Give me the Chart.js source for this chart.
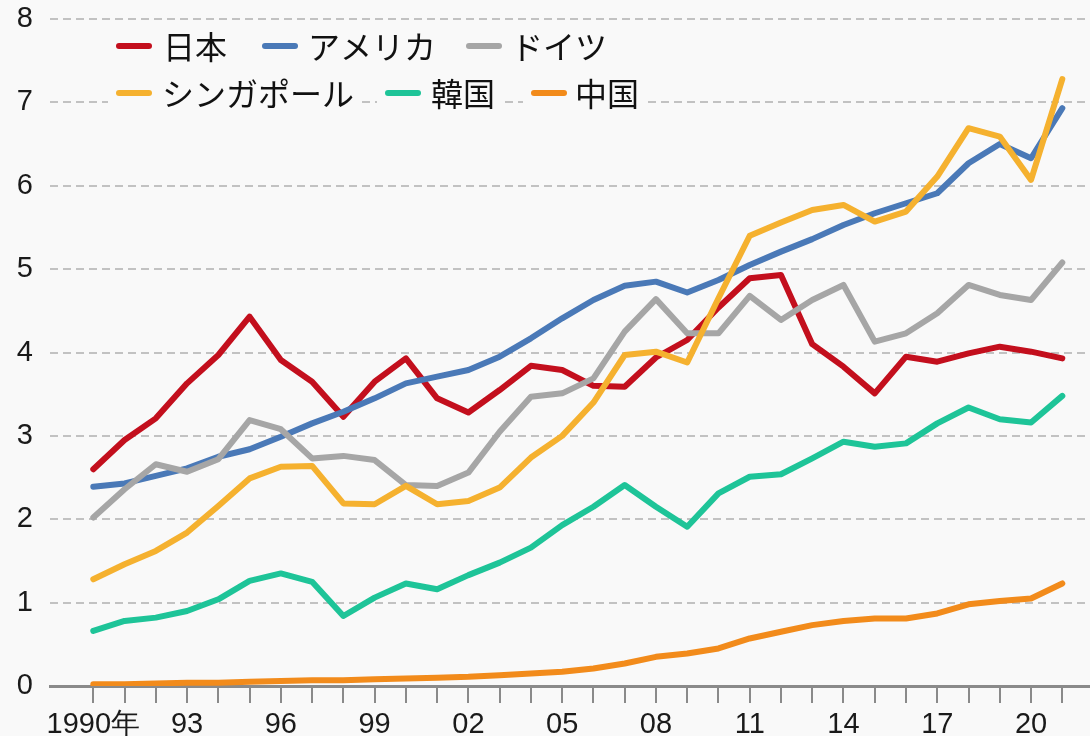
<!DOCTYPE html>
<html>
<head>
<meta charset="utf-8">
<script src="https://cdn.jsdelivr.net/npm/chart.js@4.4.1/dist/chart.umd.min.js"></script>
<style>
  html, body { margin: 0; padding: 0; background: #f9f9f9; }
  #wrap { width: 1090px; height: 736px; position: relative; }
</style>
</head>
<body>
<div id="wrap"><canvas id="c" width="1090" height="736"></canvas></div>
<script>
const years = [1990,1991,1992,1993,1994,1995,1996,1997,1998,1999,2000,2001,2002,2003,2004,2005,2006,2007,2008,2009,2010,2011,2012,2013,2014,2015,2016,2017,2018,2019,2020,2021];
const seriesNames = ['日本','アメリカ','ドイツ','シンガポール','韓国','中国'];
const japan = [2.60,2.95,3.21,3.63,3.97,4.43,3.91,3.65,3.23,3.65,3.93,3.45,3.28,3.55,3.84,3.79,3.60,3.59,3.94,4.15,4.54,4.89,4.93,4.10,3.83,3.51,3.95,3.89,3.99,4.07,4.01,3.93];
const usa = [2.39,2.43,2.52,2.61,2.75,2.84,2.99,3.15,3.29,3.45,3.63,3.71,3.79,3.95,4.17,4.41,4.63,4.80,4.85,4.72,4.87,5.05,5.21,5.36,5.53,5.67,5.79,5.91,6.27,6.50,6.33,6.93];
const germany = [2.02,2.36,2.66,2.57,2.72,3.19,3.08,2.73,2.76,2.71,2.41,2.40,2.56,3.05,3.47,3.51,3.69,4.25,4.64,4.23,4.23,4.68,4.39,4.63,4.81,4.13,4.23,4.47,4.81,4.69,4.63,5.08];
const singapore = [1.28,1.46,1.62,1.84,2.16,2.49,2.63,2.64,2.19,2.18,2.40,2.18,2.22,2.38,2.74,3.00,3.40,3.97,4.01,3.88,4.65,5.40,5.56,5.71,5.77,5.57,5.69,6.11,6.69,6.59,6.07,7.28];
const korea = [0.66,0.78,0.82,0.90,1.04,1.26,1.35,1.25,0.84,1.06,1.23,1.16,1.33,1.48,1.66,1.93,2.15,2.41,2.15,1.91,2.31,2.51,2.54,2.73,2.93,2.87,2.91,3.15,3.34,3.20,3.16,3.48];
const china = [0.02,0.02,0.03,0.04,0.04,0.05,0.06,0.07,0.07,0.08,0.09,0.10,0.11,0.13,0.15,0.17,0.21,0.27,0.35,0.39,0.45,0.57,0.65,0.73,0.78,0.81,0.81,0.87,0.98,1.02,1.05,1.23];
const yTicks = [0,1,2,3,4,5,6,7,8];

const colors = ['#c30f1d','#4a79b7','#a6a6a6','#f5b12f','#1ec498','#f28b1b'];
const allSeries = [japan, usa, germany, singapore, korea, china];
const drawOrder = [5,4,3,2,1,0];

function xLabel(v) {
  if ((v - 1990) % 3 !== 0) return '';
  if (v === 1990) return '1990年';
  return String(v % 100).padStart(2, '0');
}

const legendPlugin = {
  id: 'customLegend',
  afterDraw(chart) {
    const ctx = chart.ctx;
    const items = [
      {i:0, sx:116, tx:163, y:46},
      {i:1, sx:262, tx:308, y:46},
      {i:2, sx:466, tx:511, y:46},
      {i:3, sx:116, tx:162, y:93},
      {i:4, sx:385, tx:431, y:93},
      {i:5, sx:531, tx:575, y:93}
    ];
    ctx.save();
    ctx.font = '32px "Noto Sans CJK JP", sans-serif';
    ctx.textBaseline = 'middle';
    items.forEach(it => {
      const w = ctx.measureText(seriesNames[it.i]).width;
      ctx.fillStyle = '#f9f9f9';
      ctx.fillRect(it.sx - 8, it.y - 18, (it.tx + w + 8) - (it.sx - 8), 36);
      ctx.strokeStyle = colors[it.i];
      ctx.lineWidth = 6;
      ctx.lineCap = 'round';
      ctx.beginPath();
      ctx.moveTo(it.sx + 3, it.y);
      ctx.lineTo(it.sx + 33, it.y);
      ctx.stroke();
      ctx.fillStyle = '#111';
      ctx.fillText(seriesNames[it.i], it.tx, it.y + 1);
    });
    ctx.restore();
  }
};

const bgPlugin = {
  id: 'bg',
  beforeDraw(chart) {
    const ctx = chart.ctx;
    ctx.save();
    ctx.fillStyle = '#f9f9f9';
    ctx.fillRect(0, 0, chart.width, chart.height);
    ctx.restore();
  }
};

const datasets = allSeries.map((arr, i) => ({
  label: seriesNames[i],
  data: years.map((y, k) => ({x: y, y: arr[k]})),
  borderColor: colors[i],
  backgroundColor: colors[i],
  borderWidth: 6,
  pointRadius: 0,
  tension: 0,
  borderCapStyle: 'round',
  borderJoinStyle: 'round',
  fill: false,
  order: drawOrder[i]
}));

new Chart(document.getElementById('c'), {
  type: 'line',
  data: { datasets },
  plugins: [bgPlugin, legendPlugin],
  options: {
    responsive: false,
    animation: false,
    devicePixelRatio: 1,
    layout: { padding: { top: 19, left: 0, right: 0, bottom: 0 } },
    plugins: { legend: { display: false }, tooltip: { enabled: false } },
    scales: {
      x: {
        type: 'linear',
        min: 1988.615,
        max: 2021.886,
        afterBuildTicks(scale) { scale.ticks = years.map(v => ({value: v})); },
        afterFit(scale) { scale.height = 50; scale.paddingLeft = 0; scale.paddingRight = 0; },
        ticks: {
          autoSkip: false,
          maxRotation: 0,
          padding: 5,
          color: '#1a1a1a',
          font: { family: '"Liberation Sans", Arial, sans-serif', size: 29 },
          callback: (v) => xLabel(v)
        },
        grid: {
          display: true,
          drawOnChartArea: false,
          drawTicks: true,
          tickLength: 17,
          color: '#8a8a8a',
          lineWidth: 2
        },
        border: { display: true, color: '#8a8a8a', width: 3 }
      },
      y: {
        min: 0,
        max: 8,
        afterBuildTicks(scale) { scale.ticks = yTicks.map(v => ({value: v})); },
        afterFit(scale) { scale.width = 50; scale.paddingTop = 0; scale.paddingBottom = 0; },
        ticks: {
          padding: 17,
          color: '#1a1a1a',
          font: { family: '"Liberation Sans", Arial, sans-serif', size: 29 }
        },
        grid: {
          drawTicks: false,
          color: (c) => c.tick && c.tick.value === 0 ? 'rgba(0,0,0,0)' : '#c2c2c2',
          lineWidth: 2
        },
        border: { display: false, dash: [8, 5] }
      }
    }
  }
});
</script>
</body>
</html>
